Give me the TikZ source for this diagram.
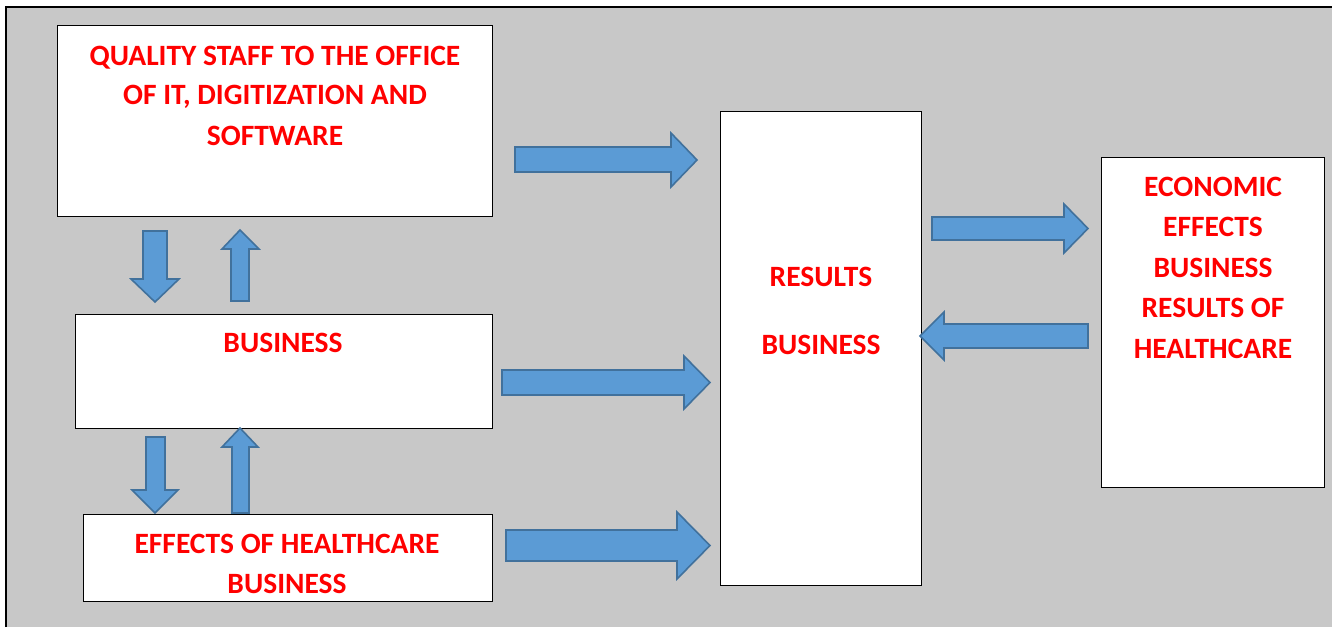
\documentclass[tikz,border=0pt]{standalone}
\usepackage{fontspec}
\setmainfont{Carlito}
\definecolor{bggray}{HTML}{C8C8C8}
\definecolor{arrowfill}{HTML}{5B9BD5}
\definecolor{arrowline}{HTML}{41719C}
\definecolor{txtred}{HTML}{FF0000}
\begin{document}
\begin{tikzpicture}[x=1pt,y=-1pt,
  box/.style={draw=black, line width=1pt, fill=white, inner sep=0pt, outer sep=0pt, anchor=north west},
  lbl/.style={text=txtred, font=\fontsize{29.5}{40}\selectfont\bfseries, anchor=base, inner sep=0pt},
  blockarrow/.style={fill=arrowfill, draw=arrowline, line width=1.6pt, line join=miter}]
\useasboundingbox (0,0) rectangle (1332,627);
% background and frame
\fill[white] (0,0) rectangle (1332,627);
\fill[bggray] (6.5,6.5) rectangle (1332,627);
\draw[black, line width=2pt] (5.5,627) -- (5.5,6.5) -- (1332,6.5);
% boxes
\node[box, minimum width=435pt, minimum height=191pt] (q) at (57,25) {};
\node[box, minimum width=417pt, minimum height=114pt] (b) at (75,314) {};
\node[box, minimum width=409pt, minimum height=87pt] (e) at (83,514) {};
\node[box, minimum width=201pt, minimum height=474pt] (r) at (720,111) {};
\node[box, minimum width=223pt, minimum height=330pt] (c) at (1101,157) {};
% texts
\node[lbl] (q1) at (275,65) {QUALITY STAFF TO THE OFFICE};
\node[lbl] (q2) at (275,104.5) {OF IT, DIGITIZATION AND};
\node[lbl] (q3) at (275,145) {SOFTWARE};
\node[lbl] (b1) at (283,352) {BUSINESS};
\node[lbl] (e1) at (287,553) {EFFECTS OF HEALTHCARE};
\node[lbl] (e2) at (287,593) {BUSINESS};
\node[lbl] (r1) at (821,286) {RESULTS};
\node[lbl] (r2) at (821,354) {BUSINESS};
\node[lbl] (c1) at (1213,196) {ECONOMIC};
\node[lbl] (c2) at (1213,236.5) {EFFECTS};
\node[lbl] (c3) at (1213,277) {BUSINESS};
\node[lbl] (c4) at (1213,317.5) {RESULTS OF};
\node[lbl] (c5) at (1213,358) {HEALTHCARE};
% block arrows: right
\draw[blockarrow] (515,147) -- (671,147) -- (671,133) -- (697,160) -- (671,187) -- (671,172) -- (515,172) -- cycle;
\draw[blockarrow] (502,370) -- (684,370) -- (684,356) -- (710,382.5) -- (684,409) -- (684,395) -- (502,395) -- cycle;
\draw[blockarrow] (506,530) -- (677,530) -- (677,512) -- (710,545.5) -- (677,579) -- (677,561) -- (506,561) -- cycle;
\draw[blockarrow] (932,217) -- (1064,217) -- (1064,204) -- (1088,228.5) -- (1064,253) -- (1064,240) -- (932,240) -- cycle;
% left
\draw[blockarrow] (1088,324) -- (944,324) -- (944,312) -- (920,336) -- (944,360) -- (944,348) -- (1088,348) -- cycle;
% down / up between upper boxes
\draw[blockarrow] (143,231) -- (167,231) -- (167,279) -- (179,279) -- (155,302) -- (131,279) -- (143,279) -- cycle;
\draw[blockarrow] (231,301) -- (249,301) -- (249,249) -- (259,249) -- (240,230) -- (222,249) -- (231,249) -- cycle;
% down / up between lower boxes
\draw[blockarrow] (146,437) -- (165,437) -- (165,490) -- (178,490) -- (155,513) -- (132,490) -- (146,490) -- cycle;
\draw[blockarrow] (232,513) -- (249,513) -- (249,447) -- (258,447) -- (240,428) -- (222,447) -- (232,447) -- cycle;
\end{tikzpicture}
\end{document}
